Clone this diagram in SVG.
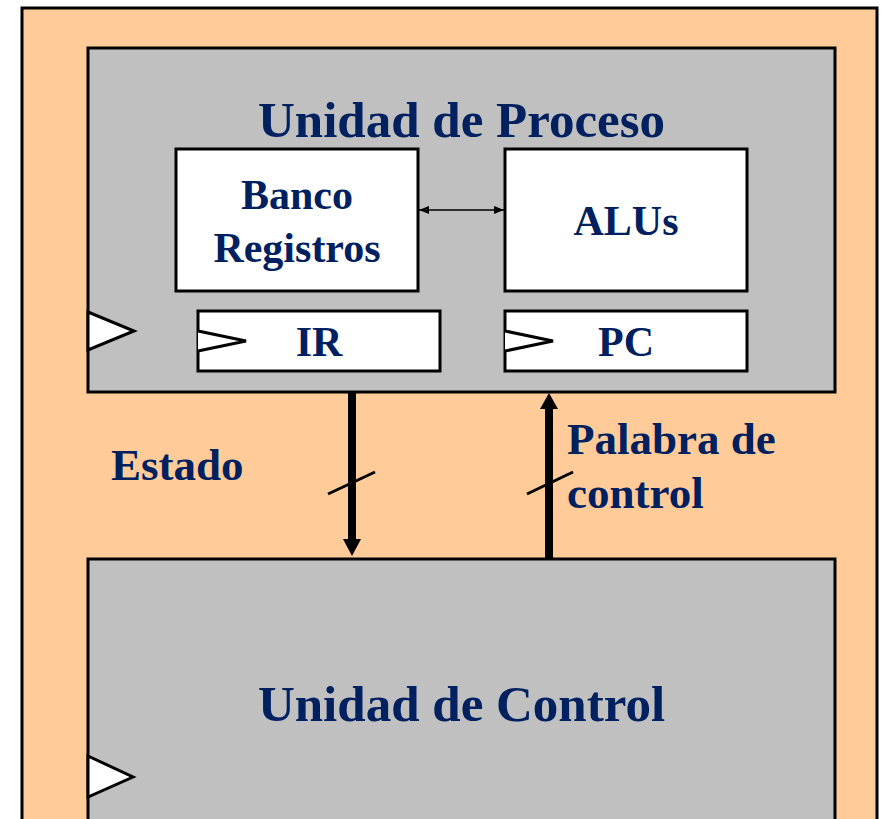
<svg xmlns="http://www.w3.org/2000/svg" width="881" height="819" viewBox="0 0 881 819">
<style>
.unit{fill:#C0C0C0;stroke:#000;stroke-width:3}
.box{fill:#FFFFFF;stroke:#000;stroke-width:3}
.clk{fill:#FFFFFF;stroke:#000;stroke-width:3;stroke-linejoin:miter}
.t{font-family:"Liberation Serif","Times New Roman",serif;font-weight:bold;fill:#002060}
.title{font-size:51px;text-anchor:middle}
.lbl{font-size:42px;text-anchor:middle}
.ext{font-size:45px}
.bus{stroke:#000;stroke-width:8;fill:none}
.slash{stroke:#000;stroke-width:3}
</style>
<defs>
<marker id="ah" markerWidth="10" markerHeight="8" refX="10" refY="4" orient="auto-start-reverse" markerUnits="userSpaceOnUse"><path d="M0,0 L10,4 L0,8 Z" fill="#000"/></marker>
</defs>
<rect x="0" y="0" width="881" height="819" fill="#FFFFFF"/>
<rect id="outer" x="22" y="8" width="855" height="830" fill="#FFCC99" stroke="#000" stroke-width="3"/>
<g id="unidad-proceso">
<rect class="unit" x="88" y="48" width="747" height="344"/>
<polygon class="clk" points="88,312 134,331 88,350"/>
<text class="t title" x="461.5" y="137">Unidad de Proceso</text>
</g>
<g id="banco-registros">
<rect class="box" x="176" y="149" width="242" height="142"/>
<text class="t lbl" x="297" y="209">Banco</text>
<text class="t lbl" x="297" y="262">Registros</text>
</g>
<g id="alus">
<rect class="box" x="505" y="149" width="242" height="142"/>
<text class="t lbl" x="626" y="235">ALUs</text>
</g>
<g id="ir">
<rect class="box" x="198" y="311" width="242" height="60"/>
<polyline class="clk" points="198,331 246,341 198,351"/>
<text class="t lbl" x="319" y="356">IR</text>
</g>
<g id="pc">
<rect class="box" x="505" y="311" width="242" height="60"/>
<polyline class="clk" points="505,331 553,341 505,351"/>
<text class="t lbl" x="626" y="356">PC</text>
</g>
<g id="unidad-control">
<rect class="unit" x="88" y="559" width="747" height="290"/>
<polygon class="clk" points="88,756 133,777 88,797"/>
<text class="t title" x="461.5" y="721">Unidad de Control</text>
</g>
<g id="connectors">
<line x1="419" y1="210" x2="504" y2="210" stroke="#000" stroke-width="1.5" marker-start="url(#ah)" marker-end="url(#ah)"/>
<line class="bus" x1="352" y1="392" x2="352" y2="540"/>
<path d="M343,539 L361,539 L352,556 Z" fill="#000"/>
<line class="slash" x1="328" y1="494" x2="375" y2="472"/>
<line class="bus" x1="549" y1="559" x2="549" y2="408"/>
<path d="M540,409 L558,409 L549,393 Z" fill="#000"/>
<line class="slash" x1="527" y1="494" x2="573" y2="472"/>
</g>
<text class="t ext" x="111" y="480">Estado</text>
<text class="t ext" x="567" y="454">Palabra de</text>
<text class="t ext" x="567" y="508">control</text>
</svg>
